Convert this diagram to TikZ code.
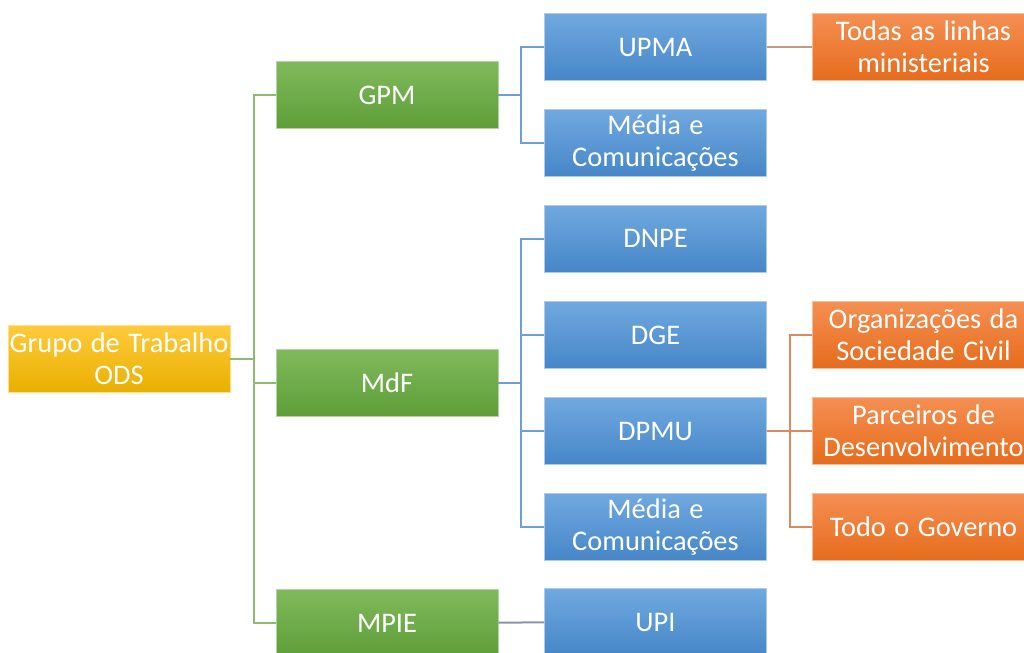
\documentclass[tikz,border=0pt]{standalone}
\usepackage{fontspec}
\setmainfont{Carlito}

\definecolor{goldtop}{HTML}{FFCB3C}
\definecolor{goldbot}{HTML}{E9AF00}
\definecolor{greentop}{HTML}{80B95C}
\definecolor{greenbot}{HTML}{5E9E38}
\definecolor{bluetop}{HTML}{70A9DF}
\definecolor{bluebot}{HTML}{4686C8}
\definecolor{orangetop}{HTML}{F48F52}
\definecolor{orangebot}{HTML}{E76C1C}
\definecolor{linegreen}{HTML}{8DBB72}
\definecolor{lineblue}{HTML}{6C9FD4}
\definecolor{lineorange}{HTML}{D88B5C}
\definecolor{linebrown}{HTML}{C39A84}
\definecolor{linegray}{HTML}{8596A8}

\newcommand{\fontecaixa}{\fontsize{14.2}{16}\selectfont\spaceskip=0.3em\relax}

\begin{document}
\begin{tikzpicture}[x=0.5pt,y=-0.5pt,
    caixa/.style={minimum width=111pt,minimum height=33.5pt,inner sep=0pt,align=center,
        text=white,font=\fontecaixa},
    ouro/.style={caixa,top color=goldtop,bottom color=goldbot,draw=goldtop!60!white,line width=0.4pt},
    verde/.style={caixa,top color=greentop,bottom color=greenbot,draw=greentop!60!white,line width=0.4pt},
    azul/.style={caixa,top color=bluetop,bottom color=bluebot,draw=bluetop!60!white,line width=0.4pt},
    laranja/.style={caixa,top color=orangetop,bottom color=orangebot,draw=orangetop!60!white,line width=0.4pt},
    lverde/.style={linegreen,line width=1pt},
    lazul/.style={lineblue,line width=1pt},
    llaranja/.style={lineorange,line width=1pt}]

\useasboundingbox (0,0) rectangle (1024,653);
\clip (0,0) rectangle (1024,653);

\node[ouro] (ods) at (119,358.5) {Grupo de Trabalho\\ODS};

\node[verde] (gpm) at (387,95) {GPM};
\node[verde] (mdf) at (387,383) {MdF};
\node[verde] (mpie) at (387,623) {MPIE};

\node[azul] (upma) at (655.5,47) {UPMA};
\node[azul] (midia1) at (655.5,143) {Média e\\Comunicações};
\node[azul] (dnpe) at (655.5,238.5) {DNPE};
\node[azul] (dge) at (655.5,335) {DGE};
\node[azul] (dpmu) at (655.5,431) {DPMU};
\node[azul] (midia2) at (655.5,527) {Média e\\Comunicações};
\node[azul] (upi) at (655.5,622) {UPI};

\node[laranja] (todas) at (923.5,47) {Todas as linhas\\ministeriais};
\node[laranja] (osc) at (923.5,335) {Organizações da\\Sociedade Civil};
\node[laranja] (parceiros) at (923.5,431) {Parceiros de\\Desenvolvimento};
\node[laranja] (governo) at (923.5,527) {Todo o Governo};

% ligacoes
\coordinate (jods) at (254,358.5);
\coordinate (jgpm) at (521,95);
\coordinate (jmdf) at (521,383);
\coordinate (jdpmu) at (790,431);

\foreach \n in {gpm,mdf,mpie} \draw[lverde] (ods.east) -- (jods) |- (\n.west);
\foreach \n in {upma,midia1} \draw[lazul] (gpm.east) -- (jgpm) |- (\n.west);
\foreach \n in {dnpe,dge,dpmu,midia2} \draw[lazul] (mdf.east) -- (jmdf) |- (\n.west);
\foreach \n in {osc,parceiros,governo} \draw[llaranja] (dpmu.east) -- (jdpmu) |- (\n.west);
\draw[linebrown,line width=1.2pt] (upma) -- (todas);   %linhas ministeriais
\draw[linegray,line width=1pt] (mpie) -- (upi);

\end{tikzpicture}
\end{document}
